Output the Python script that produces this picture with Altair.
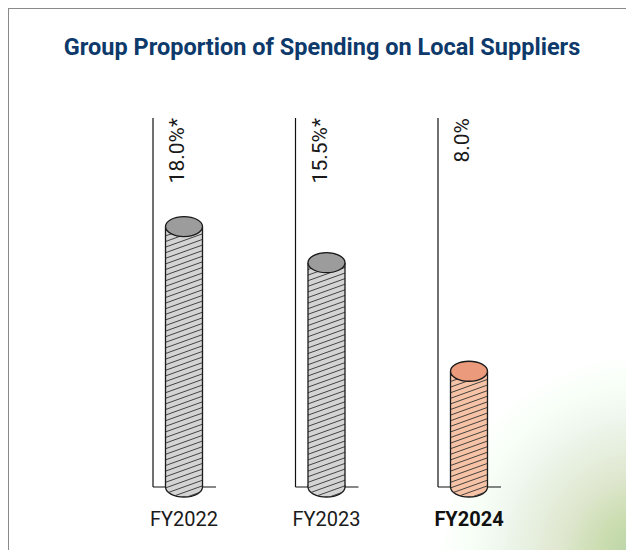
import altair as alt
import pandas as pd
import numpy as np

# ---- data ----
categories = ["FY2022", "FY2023", "FY2024"]
values = [18.0, 15.5, 8.0]
value_labels = ["18.0%*", "15.5%*", "8.0%"]
body_colors = ["#d4d4d4", "#d4d4d4", "#f6c3a6"]
top_colors = ["#9c9c9c", "#9c9c9c", "#ec9a7c"]
highlight = "FY2024"
title_text = "Group Proportion of Spending on Local Suppliers"

# ---- layout / style ----
W, H = 618, 542
X_DOMAIN = [0, 2]
X_RANGE = [176, 461]
Y_DOMAIN = [0, 25.5]
Y_RANGE = [479, 110]
A = 18.5          # cylinder half width (px)
B = 10.0          # ellipse half height (px)
HATCH_STEP = 5.6  # px
HATCH_SLOPE = 0.36
FONT = "Roboto"

px_x = (X_RANGE[1] - X_RANGE[0]) / (X_DOMAIN[1] - X_DOMAIN[0])
px_y = (Y_RANGE[0] - Y_RANGE[1]) / (Y_DOMAIN[1] - Y_DOMAIN[0])

bars = pd.DataFrame({
    "idx": list(range(len(categories))),
    "cat": categories,
    "cat_top": categories,
    "value": values,
    "label": value_labels,
    "top": [Y_DOMAIN[1]] * len(categories),
    "zero": [0.0] * len(categories),
})

# hatch texture derived from the bar values (clipped to the cylinder body)
rows = []
for i, v in enumerate(values):
    cx = X_RANGE[0] + px_x * i
    top = Y_RANGE[0] - v * px_y
    base = Y_RANGE[0]
    xs = np.linspace(cx - A, cx + A, 600)
    lower = base + B * np.sqrt(np.clip(1 - ((xs - cx) / A) ** 2, 0, None))
    c = base + B + HATCH_SLOPE * A
    while c > top - HATCH_SLOPE * A:
        ys = c - HATCH_SLOPE * (xs - cx)
        inside = (ys >= top) & (ys <= lower)
        if inside.sum() > 3:
            xi = xs[inside]
            x1, x2 = xi.min(), xi.max()
            y1 = c - HATCH_SLOPE * (x1 - cx)
            y2 = c - HATCH_SLOPE * (x2 - cx)
            rows.append({
                "cat": categories[i],
                "hx": (x1 - X_RANGE[0]) / px_x,
                "hx2": (x2 - X_RANGE[0]) / px_x,
                "hy": (Y_RANGE[0] - y1) / px_y,
                "hy2": (Y_RANGE[0] - y2) / px_y,
            })
        c -= HATCH_STEP
hatch = pd.DataFrame(rows)

K = 0.5523
r = B / A
ellipse = (
    f"M -1 0 C -1 {-r*K:.4f} {-K} {-r:.4f} 0 {-r:.4f} "
    f"C {K} {-r:.4f} 1 {-r*K:.4f} 1 0 "
    f"C 1 {r*K:.4f} {K} {r:.4f} 0 {r:.4f} "
    f"C {-K} {r:.4f} -1 {r*K:.4f} -1 0 Z"
)

xs_ = alt.Scale(domain=X_DOMAIN, range=X_RANGE, nice=False, zero=False)
ys_ = alt.Scale(domain=Y_DOMAIN, range=Y_RANGE, nice=False, zero=False)
body_fill = alt.Fill("cat:N", scale=alt.Scale(domain=categories, range=body_colors), legend=None)
top_fill = alt.Fill("cat_top:N", scale=alt.Scale(domain=categories, range=top_colors), legend=None)

base = alt.Chart(bars)

# decorative background wash (bottom right): stacked translucent discs, fading outward
wash_radii = np.linspace(20, 230, 50)
wash_df = pd.DataFrame({
    "s": np.pi * wash_radii ** 2,
    "o": np.linspace(0.03, 0.006, 50),
})
wash = alt.Chart(wash_df).mark_point(
    shape="circle", filled=True, fill="#b3cf8b", strokeWidth=0,
).encode(
    x=alt.value(W + 18), y=alt.value(H + 8),
    size=alt.Size("s:Q", scale=None, legend=None),
    opacity=alt.Opacity("o:Q", scale=None, legend=None),
)

one = pd.DataFrame({"d": [0]})
border_top = alt.Chart(one).mark_rule(color="#8a8a8a", strokeWidth=1).encode(
    x=alt.value(0), x2=alt.value(W), y=alt.value(0.5))
border_left = alt.Chart(one).mark_rule(color="#8a8a8a", strokeWidth=1).encode(
    x=alt.value(0.5), y=alt.value(0), y2=alt.value(H))

vline = base.mark_rule(color="#111", strokeWidth=1.2, xOffset=-31).encode(
    x=alt.X("idx:Q", scale=xs_, axis=None),
    y=alt.Y("top:Q", scale=ys_, axis=None),
    y2="zero:Q",
)
hline = base.mark_rule(color="#111", strokeWidth=1.2, xOffset=-31, x2Offset=32).encode(
    x=alt.X("idx:Q", scale=xs_, axis=None),
    x2="idx:Q",
    y=alt.Y("zero:Q", scale=ys_, axis=None),
)

bottom_ell = base.mark_point(
    shape=ellipse, size=(2 * A) ** 2, filled=True, opacity=1,
    stroke="#1a1a1a", strokeWidth=1.3,
).encode(
    x=alt.X("idx:Q", scale=xs_, axis=None),
    y=alt.Y("zero:Q", scale=ys_, axis=None),
    fill=body_fill,
)

body = base.mark_rect(xOffset=-A, x2Offset=A, strokeWidth=0).encode(
    x=alt.X("idx:Q", scale=xs_, axis=None),
    x2="idx:Q",
    y=alt.Y("value:Q", scale=ys_, axis=None),
    y2="zero:Q",
    fill=body_fill,
)

hatch_lines = alt.Chart(hatch).mark_rule(color="#333333", strokeWidth=0.9).encode(
    x=alt.X("hx:Q", scale=xs_, axis=None),
    x2="hx2:Q",
    y=alt.Y("hy:Q", scale=ys_, axis=None),
    y2="hy2:Q",
)

side_l = base.mark_rule(color="#1a1a1a", strokeWidth=1.3, xOffset=-A).encode(
    x=alt.X("idx:Q", scale=xs_, axis=None),
    y=alt.Y("value:Q", scale=ys_, axis=None),
    y2="zero:Q",
)
side_r = base.mark_rule(color="#1a1a1a", strokeWidth=1.3, xOffset=A).encode(
    x=alt.X("idx:Q", scale=xs_, axis=None),
    y=alt.Y("value:Q", scale=ys_, axis=None),
    y2="zero:Q",
)

top_ell = base.mark_point(
    shape=ellipse, size=(2 * A) ** 2, filled=True, opacity=1,
    stroke="#1a1a1a", strokeWidth=1.3,
).encode(
    x=alt.X("idx:Q", scale=xs_, axis=None),
    y=alt.Y("value:Q", scale=ys_, axis=None),
    fill=top_fill,
)

val_text = base.mark_text(
    angle=270, align="right", baseline="alphabetic",
    font=FONT, fontSize=21, color="#1a1a1a",
).encode(
    x=alt.X("idx:Q", scale=xs_, axis=None),
    y=alt.Y("top:Q", scale=ys_, axis=None),
    text="label:N",
)

cat_text = base.transform_filter(alt.datum.cat != highlight).mark_text(
    align="center", baseline="alphabetic", dy=39,
    font=FONT, fontSize=20, color="#1a1a1a",
).encode(
    x=alt.X("idx:Q", scale=xs_, axis=None),
    y=alt.Y("zero:Q", scale=ys_, axis=None),
    text="cat:N",
)
cat_text_bold = base.transform_filter(alt.datum.cat == highlight).mark_text(
    align="center", baseline="alphabetic", dy=39,
    font=FONT, fontSize=20, fontWeight="bold", color="#111111",
).encode(
    x=alt.X("idx:Q", scale=xs_, axis=None),
    y=alt.Y("zero:Q", scale=ys_, axis=None),
    text="cat:N",
)

title = alt.Chart(pd.DataFrame({"t": [title_text]})).mark_text(
    align="center", baseline="alphabetic", font=FONT, fontSize=23.5,
    fontWeight="bold", color="#0d3a6b",
).encode(x=alt.value(314), y=alt.value(47), text="t:N")

chart = alt.layer(
    wash, border_top, border_left, vline, hline, bottom_ell, body, hatch_lines,
    side_l, side_r, top_ell, val_text, cat_text, cat_text_bold, title,
).resolve_scale(fill="independent").properties(
    width=W, height=H, padding=0, autosize=alt.AutoSizeParams(type="none"),
    background="#ffffff",
).configure_view(stroke=None)

chart.save("out.html", embed_options={"renderer": "svg", "actions": False})
